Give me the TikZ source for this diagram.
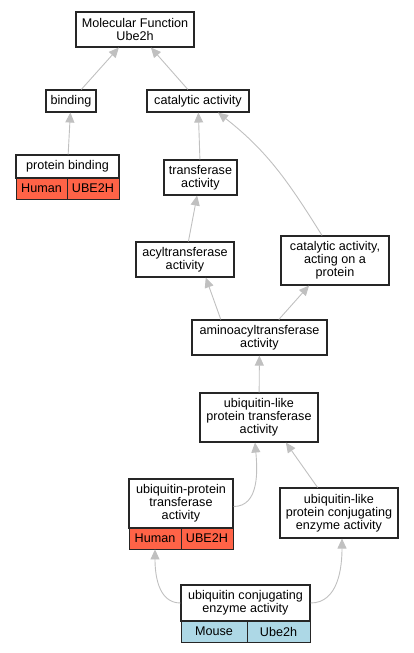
\documentclass[tikz,border=0pt]{standalone}
\usepackage{fontspec}
\setmainfont{Liberation Sans}
\usepackage{xcolor}
\usetikzlibrary{arrows.meta,positioning,shapes}
\definecolor{human}{HTML}{FF6347}
\definecolor{mouse}{HTML}{ADD8E6}
\definecolor{edgegray}{HTML}{C0C0C0}
\begin{document}
\begin{tikzpicture}[x=1pt,y=-1pt,
  term/.style={rectangle,draw=black!85,line width=1.1pt,fill=white,align=center,inner sep=0pt,
    font=\fontsize{12.6}{13}\selectfont},
  cell/.style={rectangle,draw=black!85,line width=0.9pt,minimum height=21pt,inner sep=0pt,
    font=\fontsize{12.6}{13}\selectfont},
  edge/.style={draw=edgegray,line width=0.9pt,-{Triangle[length=10pt,width=9pt]}}]
  \useasboundingbox (0,0) rectangle (413,653);
  \node[term,minimum width=118pt,minimum height=35pt] (mf) at (135,29.5) {Molecular Function\\Ube2h};
  \node[term,minimum width=50pt,minimum height=22pt] (bind) at (71,101) {binding};
  \node[term,minimum width=102pt,minimum height=22pt] (cat) at (198,101) {catalytic activity};
  \node[term,minimum width=103pt,minimum height=23pt] (pbind) at (67.5,166.5) {protein binding};
  \node[cell,fill=human,minimum width=51pt] (pbindA) at (41.5,188.5) {Human};
  \node[cell,fill=human,minimum width=52pt] (pbindB) at (93,188.5) {UBE2H};
  \node[term,minimum width=73pt,minimum height=35pt] (trans) at (200.5,177.5) {transferase\\activity};
  \node[term,minimum width=98pt,minimum height=35pt] (acyl) at (185,259.5) {acyltransferase\\activity};
  \node[term,minimum width=108pt,minimum height=49pt] (catprot) at (335,260.5) {catalytic activity,\\acting on a\\protein};
  \node[term,minimum width=135pt,minimum height=35pt] (amino) at (259.5,337.5) {aminoacyltransferase\\activity};
  \node[term,minimum width=118pt,minimum height=49pt] (ubltrans) at (259,417.5) {ubiquitin-like\\protein transferase\\activity};
  \node[term,minimum width=104pt,minimum height=49pt] (ubtrans) at (181,503.5) {ubiquitin-protein\\transferase\\activity};
  \node[cell,fill=human,minimum width=52pt] (ubtransA) at (155,538.5) {Human};
  \node[cell,fill=human,minimum width=52pt] (ubtransB) at (207,538.5) {UBE2H};
  \node[term,minimum width=118pt,minimum height=50pt] (ublconj) at (339,513) {ubiquitin-like\\protein conjugating\\enzyme activity};
  \node[term,minimum width=129pt,minimum height=36pt] (ubconj) at (245.5,603) {ubiquitin conjugating\\enzyme activity};
  \node[cell,fill=mouse,minimum width=66pt] (ubconjA) at (214,631.5) {Mouse};
  \node[cell,fill=mouse,minimum width=63pt] (ubconjB) at (278.5,631.5) {Ube2h};
  \draw[edge] (bind) -- (mf);
  \draw[edge] (cat) -- (mf);
  \draw[edge] (pbind) -- (bind);
  \draw[edge] (trans) -- (cat);
  \draw[edge] (acyl) -- (trans);
  \draw[edge] ([xshift=-13pt]catprot.north) to[out=122,in=-38] ([xshift=20pt]cat.south);
  \draw[edge] (amino.155) -- (acyl.-41);
  \draw[edge] (amino.43) -- (catprot.224);
  \draw[edge] (ubltrans) -- (amino);
  \draw[edge] ([yshift=-3pt]ubtrans.east) to[out=0,in=-85] ([xshift=-4pt]ubltrans.south);
  \draw[edge] (ublconj.130) -- (ubltrans.-43);
  \draw[edge] (ubconj.west) to[out=180,in=-90] (ubtransA.south);
  \draw[edge] (ubconj.east) to[out=0,in=-90] ([xshift=3pt]ublconj.south);
\end{tikzpicture}
\end{document}
